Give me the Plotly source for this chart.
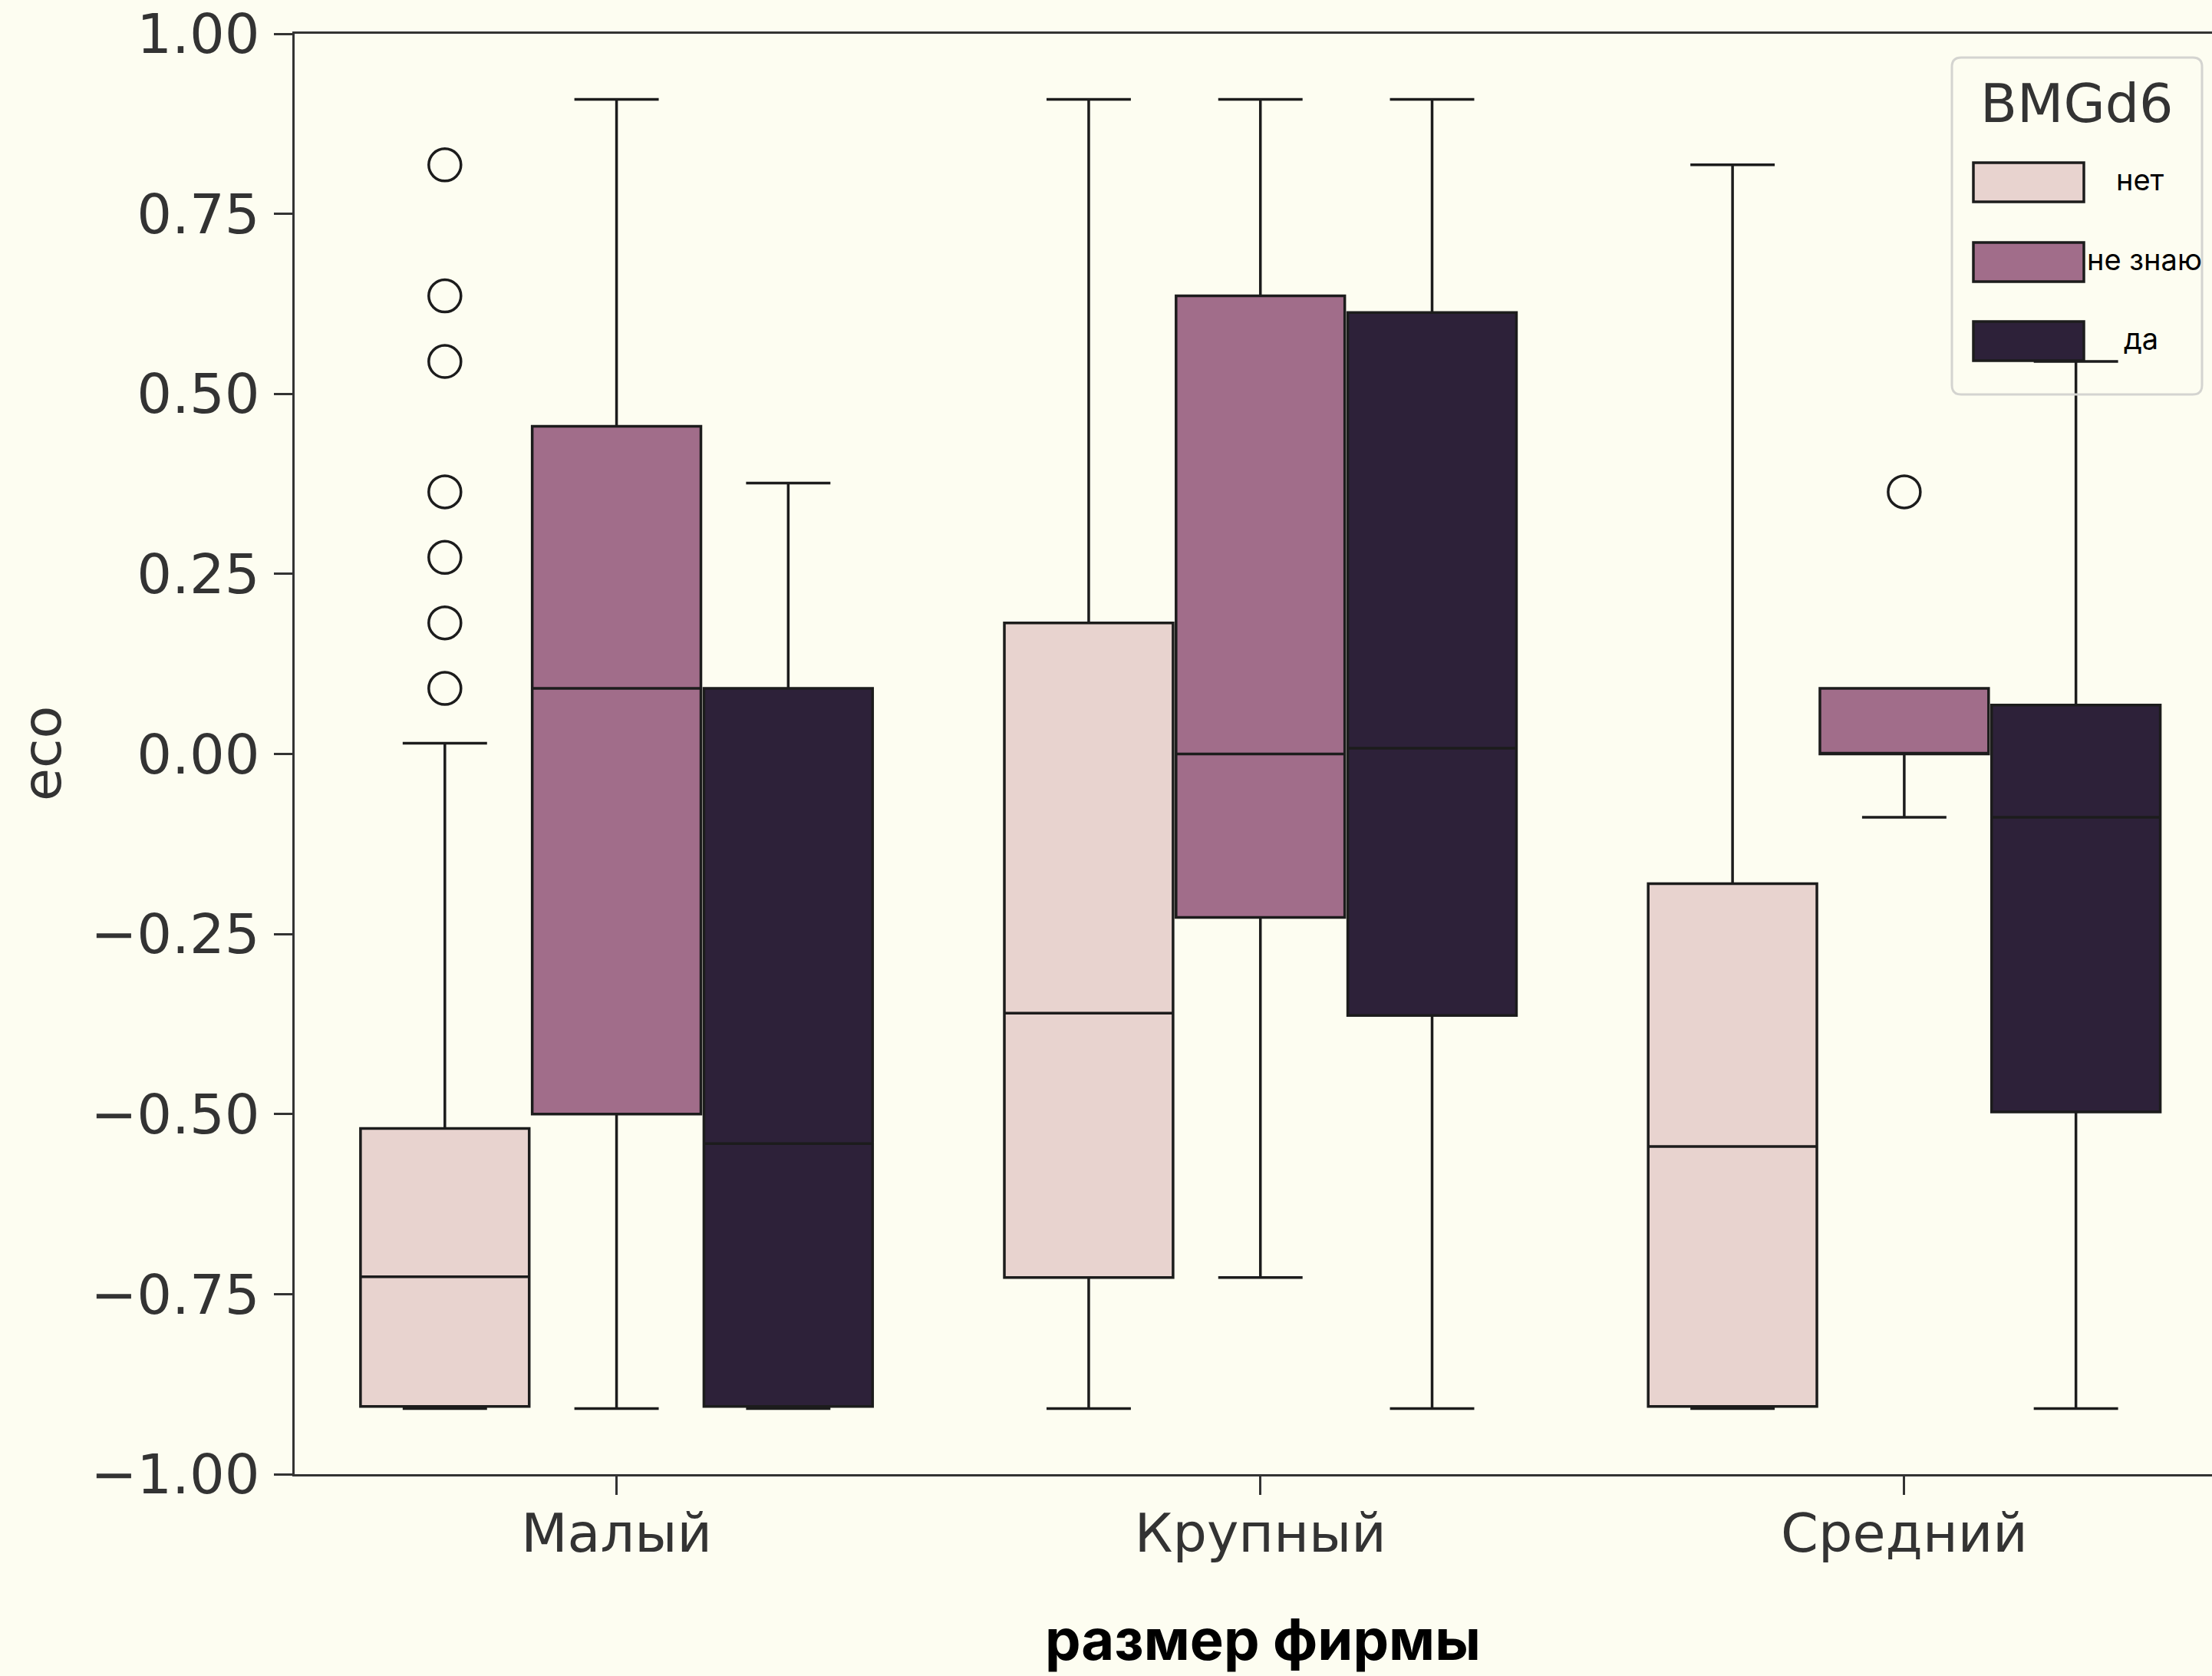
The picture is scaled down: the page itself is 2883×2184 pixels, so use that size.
import plotly.graph_objects as go

# ---- data ----
categories = ["Малый", "Крупный", "Средний"]
hue_levels = ["нет", "не знаю", "да"]
hue_colors = ["#e8d3cf", "#a16d8a", "#2d2139"]

# per hue: values per category (Малый, Крупный, Средний)
q1 = {
    "нет":     [-0.906, -0.727, -0.906],
    "не знаю": [-0.500, -0.227,  0.000],
    "да":      [-0.906, -0.363, -0.497],
}
median = {
    "нет":     [-0.726, -0.360, -0.545],
    "не знаю": [ 0.091,  0.000,  0.000],
    "да":      [-0.541,  0.008, -0.088],
}
q3 = {
    "нет":     [-0.520,  0.182, -0.180],
    "не знаю": [ 0.455,  0.636,  0.091],
    "да":      [ 0.091,  0.613,  0.068],
}
lower = {
    "нет":     [-0.909, -0.909, -0.909],
    "не знаю": [-0.909, -0.727, -0.088],
    "да":      [-0.909, -0.909, -0.909],
}
upper = {
    "нет":     [ 0.015,  0.909,  0.818],
    "не знаю": [ 0.909,  0.909,  0.091],
    "да":      [ 0.376,  0.909,  0.545],
}
outliers = {
    ("Малый", "нет"): [0.818, 0.636, 0.545, 0.364, 0.273, 0.182, 0.091],
    ("Средний", "не знаю"): [0.364],
}
y_ticks = [-1.0, -0.75, -0.5, -0.25, 0.0, 0.25, 0.5, 0.75, 1.0]

# ---- layout geometry (pixels) ----
W, H = 2883, 2184
L, R, T, B = 384, 0, 44, H - 1921
PW, PH = W - L - R, H - T - B

def px_x(p):
    return (p - L) / PW

def px_y(p):
    return (H - B - p) / PH

sub = 0.8 / 3
box_w = 0.262
edge = "#1c1c1c"

fig = go.Figure()
for hi, h in enumerate(hue_levels):
    offs = (hi - 1) * sub
    for ci, c in enumerate(categories):
        pos = ci + offs
        fig.add_trace(go.Box(
            x=[pos], q1=[q1[h][ci]], median=[median[h][ci]], q3=[q3[h][ci]],
            lowerfence=[lower[h][ci]], upperfence=[upper[h][ci]],
            width=box_w, whiskerwidth=0.5,
            fillcolor=hue_colors[hi], line=dict(color=edge, width=3.5),
            boxpoints=False, showlegend=False, hoverinfo="skip",
        ))
        pts = outliers.get((c, h))
        if pts:
            fig.add_trace(go.Scatter(
                x=[pos] * len(pts), y=pts, mode="markers",
                marker=dict(symbol="circle-open", size=42, color=edge,
                            line=dict(width=3.5, color=edge)),
                showlegend=False, hoverinfo="skip",
            ))

bg = "#fdfdf1"
axis_color = "#333333"
fig.update_layout(
    width=W, height=H,
    margin=dict(l=L, r=R, t=T, b=B, pad=0),
    paper_bgcolor=bg, plot_bgcolor=bg,
    showlegend=False,
    font=dict(family="DejaVu Sans", size=70, color=axis_color),
)
fig.update_xaxes(
    range=[-0.5, 2.478], tickvals=[0, 1, 2], ticktext=categories,
    showline=True, linecolor=axis_color, linewidth=3, mirror=True,
    ticks="outside", ticklen=24, tickwidth=3, tickcolor=axis_color,
    showgrid=False, zeroline=False, ticklabelstandoff=-10,
    tickfont=dict(family="DejaVu Sans", size=70, color=axis_color),
)
fig.update_yaxes(
    range=[-1.0, 1.0], tickvals=y_ticks, tickformat=".2f",
    showline=True, linecolor=axis_color, linewidth=3,
    ticks="outside", ticklen=24, tickwidth=3, tickcolor=axis_color,
    showgrid=False, zeroline=False, ticklabelstandoff=4,
    tickfont=dict(family="DejaVu Sans", size=72, color=axis_color),
)

# axis titles
fig.add_annotation(
    text="eco", xref="paper", yref="paper", x=px_x(55), y=px_y(982),
    textangle=-90, showarrow=False, xanchor="center", yanchor="middle",
    font=dict(family="DejaVu Sans", size=70, color=axis_color),
)
fig.add_annotation(
    text="<b>размер фирмы</b>", xref="paper", yref="paper",
    x=px_x(1646), y=px_y(2136), showarrow=False,
    xanchor="center", yanchor="middle",
    font=dict(family="Inter", size=74, color="#000000", weight=900),
)

# custom legend
fx0, fx1, fy0, fy1, rr = 2544, 2870, 75, 514, 12
path = (f"M {px_x(fx0+rr)},{px_y(fy0)} L {px_x(fx1-rr)},{px_y(fy0)} "
        f"Q {px_x(fx1)},{px_y(fy0)} {px_x(fx1)},{px_y(fy0+rr)} "
        f"L {px_x(fx1)},{px_y(fy1-rr)} Q {px_x(fx1)},{px_y(fy1)} {px_x(fx1-rr)},{px_y(fy1)} "
        f"L {px_x(fx0+rr)},{px_y(fy1)} Q {px_x(fx0)},{px_y(fy1)} {px_x(fx0)},{px_y(fy1-rr)} "
        f"L {px_x(fx0)},{px_y(fy0+rr)} Q {px_x(fx0)},{px_y(fy0)} {px_x(fx0+rr)},{px_y(fy0)} Z")
fig.add_shape(type="path", path=path, xref="paper", yref="paper",
              line=dict(color="#d4d4d0", width=3), fillcolor="rgba(0,0,0,0)",
              layer="above")
fig.add_annotation(
    text="BMGd6", xref="paper", yref="paper", x=px_x(2707), y=px_y(135),
    showarrow=False, xanchor="center", yanchor="middle",
    font=dict(family="DejaVu Sans", size=70, color=axis_color),
)
sw_top = [212, 316, 419]
lab_x = [2789, 2795, 2790]
for i, h in enumerate(hue_levels):
    y0 = sw_top[i]
    fig.add_shape(type="rect", xref="paper", yref="paper",
                  x0=px_x(2572), x1=px_x(2716), y0=px_y(y0), y1=px_y(y0 + 51),
                  fillcolor=hue_colors[i], line=dict(color=edge, width=3.5),
                  layer="above")
    fig.add_annotation(
        text=h, xref="paper", yref="paper", x=px_x(lab_x[i]), y=px_y(y0 + 22),
        showarrow=False, xanchor="center", yanchor="middle",
        font=dict(family="Inter", size=38, color="#000000"),
    )

fig.write_html(
    "out.html",
    config={"displayModeBar": False},
    post_script="document.body.style.margin='0';document.body.style.background='%s';" % bg,
)
